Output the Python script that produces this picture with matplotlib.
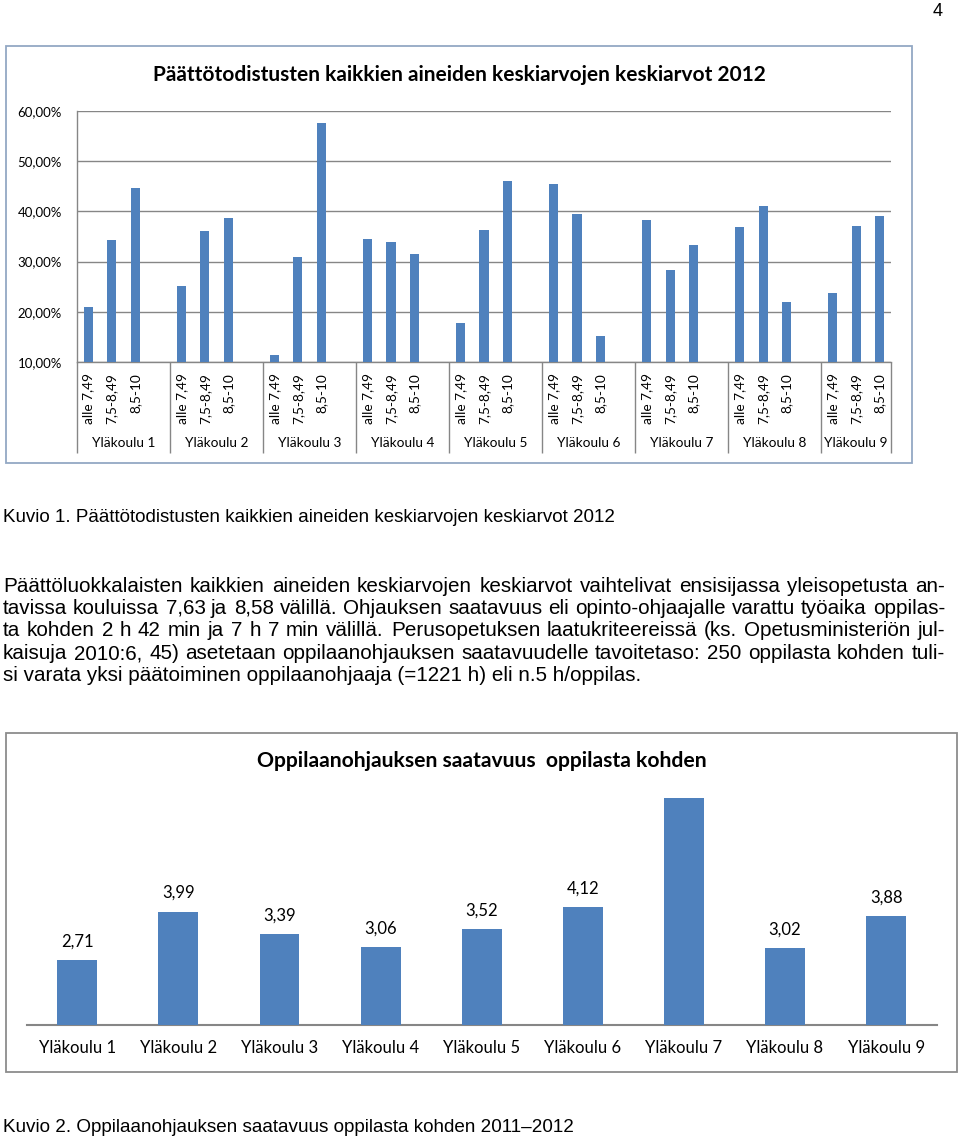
import matplotlib
matplotlib.use("Agg")
import matplotlib.pyplot as plt
import matplotlib.transforms as mtransforms
from matplotlib.patches import Rectangle

# ---------------- data ----------------
schools = ["Yläkoulu 1", "Yläkoulu 2", "Yläkoulu 3", "Yläkoulu 4", "Yläkoulu 5",
           "Yläkoulu 6", "Yläkoulu 7", "Yläkoulu 8", "Yläkoulu 9"]
grade_bands = ["alle 7,49", "7,5-8,49", "8,5-10"]
share_low = [21.0, 25.2, 11.3, 34.5, 17.7, 45.4, 38.3, 36.9, 23.7]
share_mid = [34.3, 36.0, 30.9, 33.9, 36.3, 39.5, 28.3, 41.1, 37.1]
share_high = [44.6, 38.7, 57.7, 31.5, 46.0, 15.1, 33.3, 21.9, 39.1]
pct_ticks = [10, 20, 30, 40, 50, 60]
pct_tick_labels = ["10,00%", "20,00%", "30,00%", "40,00%", "50,00%", "60,00%"]

guidance_hours = [2.71, 3.99, 3.39, 3.06, 3.52, 4.12, 7.00, 3.02, 3.88]
guidance_labels = ["2,71", "3,99", "3,39", "3,06", "3,52", "4,12", "", "3,02", "3,88"]

title1 = "Päättötodistusten kaikkien aineiden keskiarvojen keskiarvot 2012"
title2 = "Oppilaanohjauksen saatavuus  oppilasta kohden"
caption1 = "Kuvio 1. Päättötodistusten kaikkien aineiden keskiarvojen keskiarvot 2012"
caption2 = "Kuvio 2. Oppilaanohjauksen saatavuus oppilasta kohden 2011–2012"
paragraph = [
    "Päättöluokkalaisten kaikkien aineiden keskiarvojen keskiarvot vaihtelivat ensisijassa yleisopetusta an-",
    "tavissa kouluissa 7,63 ja 8,58 välillä. Ohjauksen saatavuus eli opinto-ohjaajalle varattu työaika oppilas-",
    "ta kohden 2 h 42 min ja 7 h 7 min välillä. Perusopetuksen laatukriteereissä (ks. Opetusministeriön jul-",
    "kaisuja 2010:6, 45) asetetaan oppilaanohjauksen saatavuudelle tavoitetaso: 250 oppilasta kohden tuli-",
    "si varata yksi päätoiminen oppilaanohjaaja (=1221 h) eli n.5 h/oppilas.",
]
page_number = "4"

# ---------------- style ----------------
W, H, DPI = 960, 1139, 100
BAR = "#4F81BD"
GRID = "#868686"
CAL = ["Lato", "DejaVu Sans"]
ARIAL = ["Liberation Sans", "DejaVu Sans"]
CAPTION_SIZE = 13.5


def fx(px):
    return px / W


def fy(py):
    return 1 - py / H


def pt(px):
    return px * 72.0 / DPI


fig = plt.figure(figsize=(W / DPI, H / DPI), dpi=DPI)
fig.patch.set_facecolor("white")

# ---------------- chart 1 ----------------
L1, R1, T1, B1 = 77, 891, 111, 362
ax1 = fig.add_axes([fx(L1), fy(B1), (R1 - L1) / W, (B1 - T1) / H])
series = [share_low, share_mid, share_high]
positions, labels = [], []
for g in range(len(schools)):
    for k, vals in enumerate(series):
        x = g * 4 + k + 0.5
        ax1.bar(x, vals[g] - pct_ticks[0], bottom=pct_ticks[0], width=0.39,
                color=BAR, zorder=3)
        positions.append(x)
        labels.append(grade_bands[k])
n_slots = len(schools) * 4 - 1
ax1.set_xlim(0, n_slots)
ax1.set_ylim(pct_ticks[0], pct_ticks[-1])
ax1.set_yticks(pct_ticks)
ax1.set_yticklabels(pct_tick_labels, fontsize=9.5, family=CAL)
ax1.tick_params(axis="y", length=0, pad=pt(15))
ax1.yaxis.grid(True, color=GRID, lw=1.0, zorder=0)
ax1.set_xticks(positions)
ax1.set_xticklabels(labels, rotation=90, fontsize=9.8, family=CAL)
ax1.tick_params(axis="x", length=0, pad=pt(11))
for s in ["top", "right"]:
    ax1.spines[s].set_visible(False)
for s in ["left", "bottom"]:
    ax1.spines[s].set_color(GRID)
    ax1.spines[s].set_linewidth(1.0)
trans1 = mtransforms.blended_transform_factory(ax1.transData, ax1.transAxes)
bounds = [g * 4 for g in range(len(schools))] + [n_slots]
sep_depth = (453 - B1) / (B1 - T1)
ax1.vlines(bounds, 0, -sep_depth, transform=trans1, clip_on=False,
           color=GRID, lw=1.0)
lab_y = -(443 - B1) / (B1 - T1)
for g, name in enumerate(schools):
    ax1.text((bounds[g] + bounds[g + 1]) / 2, lab_y, name, transform=trans1,
             ha="center", va="center", fontsize=9.8, family=CAL)
ax1.set_xlim(0, n_slots)

fig.add_artist(Rectangle((fx(5.5), fy(463)), (911.5 - 5.5) / W, (463 - 46.5) / H,
                         transform=fig.transFigure, fill=False,
                         edgecolor="#93A8C4", lw=1.3))
fig.text(fx(459), fy(75), title1, ha="center", va="center", fontsize=15,
         fontweight="bold", family=CAL)

# ---------------- chart 2 ----------------
L2, R2, T2, B2 = 26.7, 936.7, 790, 1025
px_per_unit = 37.9
ymin2 = 1.0
ax2 = fig.add_axes([fx(L2), fy(B2), (R2 - L2) / W, (B2 - T2) / H])
xs2 = [i + 0.5 for i in range(len(schools))]
ax2.bar(xs2, [v - ymin2 for v in guidance_hours], bottom=ymin2, width=0.395,
        color=BAR, zorder=3)
ax2.set_xlim(0, len(schools))
ax2.set_ylim(ymin2, ymin2 + (B2 - T2) / px_per_unit)
ax2.set_xticks([])
ax2.set_yticks([])
for s in ["top", "right", "left"]:
    ax2.spines[s].set_visible(False)
ax2.spines["bottom"].set_color(GRID)
ax2.spines["bottom"].set_linewidth(1.5)
for x, v, lab in zip(xs2, guidance_hours, guidance_labels):
    ax2.annotate(lab, (x, v), xytext=(0, pt(18.6)), textcoords="offset points",
                 ha="center", va="center", fontsize=12, family=CAL)
for x, name in zip(xs2, schools):
    ax2.annotate(name, (x, 0), xycoords=("data", "axes fraction"),
                 xytext=(0, -pt(23)), textcoords="offset points",
                 ha="center", va="center", fontsize=12, family=CAL)

fig.add_artist(Rectangle((fx(5.5), fy(1072)), (957 - 5.5) / W, (1072 - 733) / H,
                         transform=fig.transFigure, fill=False,
                         edgecolor="#8C8C8C", lw=1.3))
fig.text(fx(482), fy(761), title2, ha="center", va="center", fontsize=15.2,
         fontweight="bold", family=CAL)

# ---------------- page text ----------------
fig.text(fx(938), fy(12), page_number, ha="center", va="center", fontsize=13,
         family=ARIAL)
fig.text(fx(3), fy(518), caption1, ha="left", va="center", fontsize=CAPTION_SIZE,
         family=ARIAL)
fig.text(fx(3), fy(1127), caption2, ha="left", va="center", fontsize=13.6,
         family=ARIAL)

renderer = fig.canvas.get_renderer()
X0, X1 = 3, 945

# pick paragraph size so that the widest justified line fits with normal spaces
probe = fig.text(0, 0, "", fontsize=10, family=ARIAL)
natural = []
for line in paragraph[:-1]:
    probe.set_text(line)
    natural.append(probe.get_window_extent(renderer).width)
probe.remove()
para_size = 10 * (X1 - X0) / max(natural) * 0.995

for i, line in enumerate(paragraph):
    base = round(586 + 22.2 * i + 6)
    if i == len(paragraph) - 1:
        fig.text(fx(X0), fy(base), line, ha="left", va="baseline",
                 fontsize=para_size, family=ARIAL)
        continue
    words = line.split(" ")
    texts = [fig.text(0, fy(base), w, ha="left", va="baseline",
                      fontsize=para_size, family=ARIAL) for w in words]
    widths = [t.get_window_extent(renderer).width for t in texts]
    gap = (X1 - X0 - sum(widths)) / (len(words) - 1)
    x = X0
    for t, wd in zip(texts, widths):
        t.set_x(fx(round(x)))
        x += wd + gap

fig.savefig("out.png", dpi=DPI, facecolor="white")
